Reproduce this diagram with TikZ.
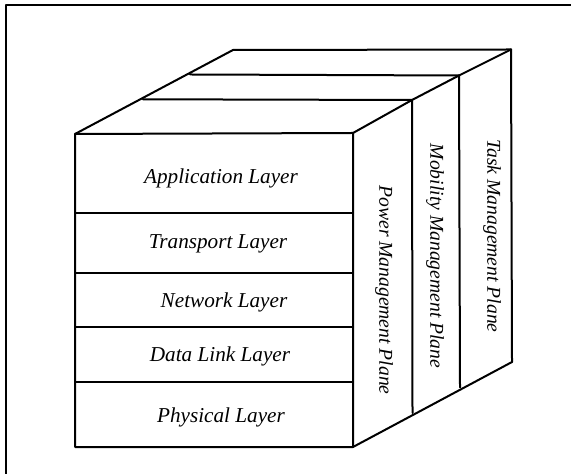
\documentclass[tikz,border=0pt]{standalone}
\usepackage{fontspec}
\setmainfont{Liberation Serif}
\begin{document}
\begin{tikzpicture}[line cap=round,line join=round,x=0.5pt,y=-0.5pt]
			\useasboundingbox (0,0) rectangle (571,474);
			\draw [line width=0.6pt] (6.,474.) -- (6.,5.) -- (571.,5.);
			\draw [line width=1.pt] (75.,134.) -- (353.,133.) -- (353.,447.) -- (75.,447.) -- cycle;
			\draw [line width=1.pt] (75.,213.)-- (353.,213.);
			\draw [line width=1.pt] (75.,273.)-- (353.,273.);
			\draw [line width=1.pt] (75.,327.)-- (353.,327.);
			\draw [line width=1.pt] (75.,382.)-- (353.,382.);
			\draw [line width=1.pt] (75.,134.)-- (233.,50.);
			\draw [line width=1.pt] (233.,50.)-- (511.,49.5);
			\draw [line width=1.pt] (143.,99.3)-- (412.,100.);
			\draw [line width=1.pt] (190.,74.5)-- (459.,75.5);
			\draw [line width=1.pt] (353.,133.)-- (412.,100.);
			\draw [line width=1.pt] (412.,100.)-- (459.,75.5);
			\draw [line width=1.pt] (459.,75.5)-- (511.,49.5);
			\draw [line width=1.pt] (511.,49.5)-- (512.,362.);
			\draw [line width=1.pt] (459.,75.5)-- (460.,387.5);
			\draw [line width=1.pt] (412.,100.)-- (412.5,413.);
			\draw [line width=1.pt] (353.,447.)-- (512.,362.);
			\draw (221,178.5) node[font=\fontsize{10.6}{12}\selectfont\itshape] (app) {Application Layer};
			\draw (218,243.5) node[font=\fontsize{10.6}{12}\selectfont\itshape] (trans) {Transport Layer};
			\draw (224,302) node[font=\fontsize{10.6}{12}\selectfont\itshape] (net) {Network Layer};
			\draw (220,356) node[font=\fontsize{10.6}{12}\selectfont\itshape] (link) {Data Link Layer};
			\draw (221,417) node[font=\fontsize{10.6}{12}\selectfont\itshape] (phy) {Physical Layer};
			\draw (384,290) node[rotate=-90,font=\fontsize{9.8}{12}\selectfont\itshape] (power) {Power Management Plane};
			\draw (435,256) node[rotate=-90,font=\fontsize{9.8}{12}\selectfont\itshape] (mob) {Mobility Management Plane};
			\draw (492,236) node[rotate=-90,font=\fontsize{9.8}{12}\selectfont\itshape] (task) {Task Management Plane};
\end{tikzpicture}
\end{document}
